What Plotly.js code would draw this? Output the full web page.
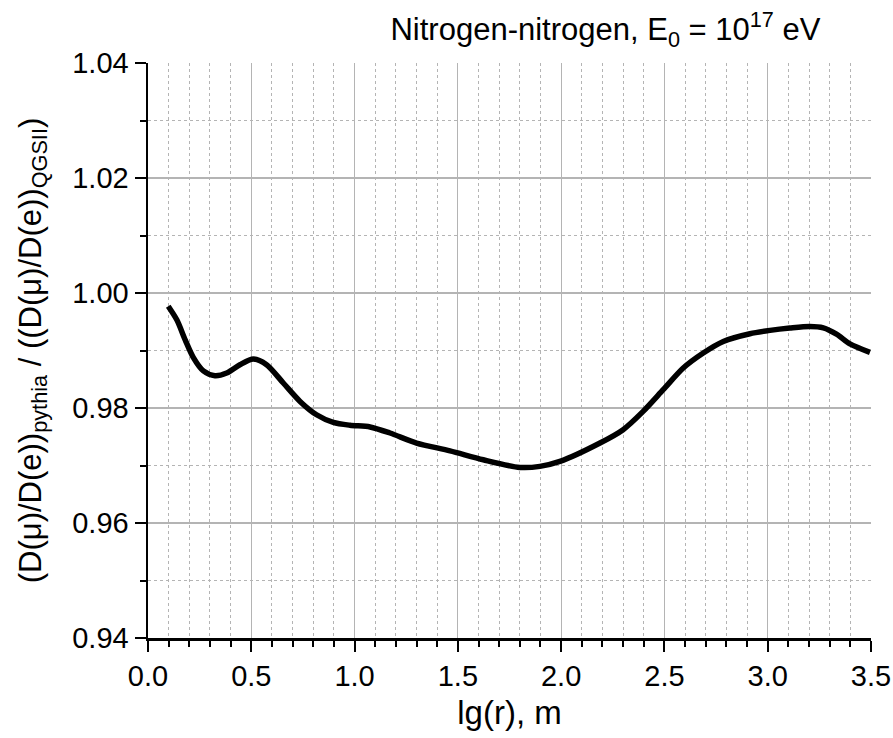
<!DOCTYPE html>
<html>
<head>
<meta charset="utf-8">
<script src="https://cdn.plot.ly/plotly-3.0.1.min.js"></script>
<style>html,body{margin:0;padding:0;background:#fff;}#chart{width:893px;height:738px;}</style>
</head>
<body>
<div id="chart"></div>
<script>
const lgR = [0.098,0.140,0.180,0.219,0.268,0.324,0.381,0.445,0.510,0.574,0.655,0.736,0.816,0.897,0.978,1.075,1.171,1.30,1.462,1.623,1.80,1.897,1.994,2.188,2.30,2.397,2.494,2.591,2.688,2.785,2.914,3.011,3.107,3.204,3.269,3.333,3.398,3.495];
const ratio = [0.9977,0.9953,0.99185,0.9888,0.98645,0.98562,0.98609,0.98753,0.98852,0.98753,0.98435,0.98115,0.97883,0.9775,0.9770,0.9767,0.97565,0.97391,0.97255,0.9710,0.96967,0.96985,0.97071,0.97391,0.97623,0.97941,0.98318,0.98696,0.98957,0.99158,0.99292,0.9935,0.99391,0.99419,0.99395,0.99285,0.99115,0.98967];

const font = "Liberation Sans, Arial, sans-serif";
const gridCol = "#b4b4b4";

Plotly.newPlot("chart", [{
  x: lgR, y: ratio, type: "scatter", mode: "lines",
  line: {color: "#000", width: 5.5, shape: "spline", smoothing: 0.8},
  showlegend: false, hoverinfo: "skip"
}], {
  width: 893, height: 738,
  margin: {l: 148, r: 22, t: 63, b: 100},
  paper_bgcolor: "#fff", plot_bgcolor: "#fff",
  font: {family: font, color: "#000"},
  title: {
    text: "Nitrogen-nitrogen, E<sub>0</sub> = 10<sup>17</sup> eV",
    font: {size: 31, family: font, color: "#000"},
    x: 0.678, xanchor: "center", y: 0.960, yanchor: "middle"
  },
  xaxis: {
    range: [0, 3.5], dtick: 0.5, tick0: 0, tickformat: ".1f",
    showline: true, linecolor: "#000", linewidth: 2.5, mirror: false,
    ticks: "outside", ticklen: 11, tickwidth: 2, tickcolor: "#000",
    showgrid: true, gridcolor: gridCol, gridwidth: 1.2,
    zeroline: false,
    tickfont: {size: 29, family: font},
    title: {text: "lg(r), m", font: {size: 33, family: font}, standoff: 10},
    minor: {dtick: 0.1, ticks: "outside", ticklen: 6, tickwidth: 2, tickcolor: "#000",
            showgrid: true, gridcolor: gridCol, griddash: "dot", gridwidth: 1}
  },
  yaxis: {
    range: [0.94, 1.04], dtick: 0.02, tick0: 0.94, tickformat: ".2f",
    showline: true, linecolor: "#000", linewidth: 2.5, mirror: false,
    ticks: "outside", ticklen: 11, tickwidth: 2, tickcolor: "#000",
    showgrid: true, gridcolor: gridCol, gridwidth: 1.2,
    zeroline: false,
    tickfont: {size: 29, family: font},
    title: {text: "(D(μ)/D(e))<sub>pythia</sub> / ((D(μ)/D(e))<sub>QGSII</sub>)", font: {size: 31, family: font}, standoff: 22},
    minor: {dtick: 0.01, ticks: "outside", ticklen: 6, tickwidth: 2, tickcolor: "#000",
            showgrid: true, gridcolor: gridCol, griddash: "dot", gridwidth: 1}
  }
}, {displayModeBar: false, staticPlot: true});
</script>
</body>
</html>
